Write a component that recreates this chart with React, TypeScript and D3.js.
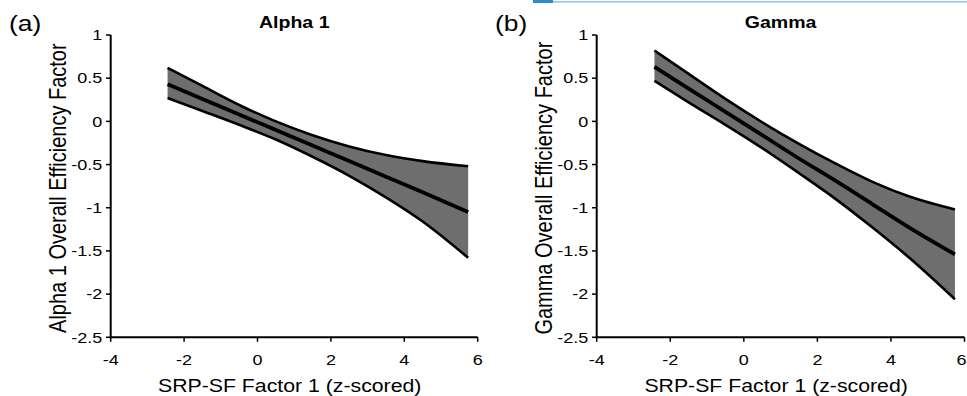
import React from "react";
import * as d3 from "d3";

const xTicks = [-4, -2, 0, 2, 4, 6];
const yTicks = [1, 0.5, 0, -0.5, -1, -1.5, -2, -2.5];

const alphaX = [-2.45, -1.5, -0.5, 0.5, 1.5, 2.5, 3.5, 4.5, 5.74];
const alphaMean = [0.43, 0.26, 0.08, -0.1, -0.28, -0.46, -0.64, -0.82, -1.05];
const alphaUpper = [0.62, 0.41, 0.19, 0.0, -0.16, -0.29, -0.39, -0.46, -0.52];
const alphaLower = [0.27, 0.12, -0.04, -0.21, -0.41, -0.63, -0.88, -1.16, -1.58];

const gammaX = [-2.43, -1.5, -0.5, 0.5, 1.5, 2.5, 3.5, 4.5, 5.74];
const gammaMean = [0.63, 0.38, 0.11, -0.16, -0.43, -0.69, -0.96, -1.23, -1.54];
const gammaUpper = [0.82, 0.55, 0.26, -0.01, -0.26, -0.49, -0.7, -0.87, -1.02];
const gammaLower = [0.47, 0.22, -0.04, -0.31, -0.6, -0.9, -1.23, -1.58, -2.06];

const panelLetters = ["(a)", "(b)"];
const panelTitles = ["Alpha 1", "Gamma"];
const yLabels = ["Alpha 1 Overall Efficiency Factor", "Gamma Overall Efficiency Factor"];
const xLabel = "SRP-SF Factor 1 (z-scored)";

const FONT = "'Liberation Sans', Arial, sans-serif";
const SX = 1.2;

type PanelProps = {
  x0: number;
  x1: number;
  xs: number[];
  mean: number[];
  upper: number[];
  lower: number[];
  letter: string;
  title: string;
  yLabel: string;
  letterX: number;
  yLabelX: number;
  lastTickEnd?: number;
};

function Panel(p: PanelProps) {
  const top = 35;
  const bottom = 337.3;
  const x = d3.scaleLinear().domain([-4, 6]).range([p.x0, p.x1]);
  const y = d3.scaleLinear().domain([-2.5, 1]).range([bottom, top]);
  const idx = p.xs.map((_, i) => i);
  const area = d3
    .area<number>()
    .x((i) => x(p.xs[i]))
    .y0((i) => y(p.lower[i]))
    .y1((i) => y(p.upper[i]))
    .curve(d3.curveMonotoneX);
  const line = (vals: number[]) =>
    d3
      .line<number>()
      .x((i) => x(p.xs[i]))
      .y((i) => y(vals[i]))
      .curve(d3.curveMonotoneX)(idx) || "";
  const cx = (p.x0 + p.x1) / 2;
  const cy = (top + bottom) / 2;
  return (
    <g fontFamily={FONT} fill="#000">
      <text
        transform={`translate(${p.letterX},31) scale(${SX},1)`}
        fontSize={22}
      >
        {p.letter}
      </text>
      <text
        transform={`translate(${cx},27.5) scale(${SX},1)`}
        fontSize={16.3}
        fontWeight="bold"
        textAnchor="middle"
      >
        {p.title}
      </text>
      <path d={area(idx) || ""} fill="#6e6e6e" stroke="none" />
      <path d={line(p.upper)} fill="none" stroke="#000" strokeWidth={2.6} />
      <path d={line(p.lower)} fill="none" stroke="#000" strokeWidth={2.6} />
      <path d={line(p.mean)} fill="none" stroke="#000" strokeWidth={3.8} />
      <line x1={p.x0} x2={p.x0} y1={top} y2={bottom + 1} stroke="#000" strokeWidth={2} />
      <line x1={p.x0 - 1} x2={p.x1} y1={bottom} y2={bottom} stroke="#000" strokeWidth={2} />
      {yTicks.map((t) => (
        <g key={"y" + t}>
          <line x1={p.x0 - 4.7} x2={p.x0} y1={y(t)} y2={y(t)} stroke="#000" strokeWidth={1.5} />
          <text
            transform={`translate(${p.x0 - 8.5},${y(t) + 5.3}) scale(${SX},1)`}
            fontSize={15}
            textAnchor="end"
          >
            {String(t)}
          </text>
        </g>
      ))}
      {xTicks.map((t, i) => {
        const isLast = i === xTicks.length - 1 && p.lastTickEnd !== undefined;
        const tx = isLast ? (p.lastTickEnd as number) : x(t);
        return (
          <g key={"x" + t}>
            <line x1={x(t)} x2={x(t)} y1={bottom} y2={bottom + 4.5} stroke="#000" strokeWidth={1.5} />
            <text
              transform={`translate(${tx},364.5) scale(${SX},1)`}
              fontSize={15}
              textAnchor={isLast ? "end" : "middle"}
            >
              {String(t)}
            </text>
          </g>
        );
      })}
      <text
        transform={`translate(${cx - 4.5},392) scale(1.15,1)`}
        fontSize={18.5}
        textAnchor="middle"
      >
        {xLabel}
      </text>
      <text
        transform={`translate(${p.yLabelX},${cy + 2}) scale(${SX},1) rotate(-90)`}
        fontSize={20}
        textAnchor="middle"
      >
        {p.yLabel}
      </text>
    </g>
  );
}

export default function App() {
  return (
    <svg
      width={967}
      height={396}
      style={{ position: "absolute", left: 0, top: 0, background: "#fff" }}
    >
      <rect x={0} y={0} width={967} height={396} fill="#fff" />
      <rect x={533} y={0} width={20} height={3} fill="#2a8ccc" />
      <line x1={553} x2={967} y1={1.8} y2={1.8} stroke="#6bbde0" strokeWidth={1.2} />
      <Panel
        x0={110.7}
        x1={477.7}
        xs={alphaX}
        mean={alphaMean}
        upper={alphaUpper}
        lower={alphaLower}
        letter={panelLetters[0]}
        title={panelTitles[0]}
        yLabel={yLabels[0]}
        letterX={9}
        yLabelX={66}
      />
      <Panel
        x0={596.7}
        x1={964.5}
        xs={gammaX}
        mean={gammaMean}
        upper={gammaUpper}
        lower={gammaLower}
        letter={panelLetters[1]}
        title={panelTitles[1]}
        yLabel={yLabels[1]}
        letterX={495}
        yLabelX={552}
        lastTickEnd={966.5}
      />
    </svg>
  );
}
